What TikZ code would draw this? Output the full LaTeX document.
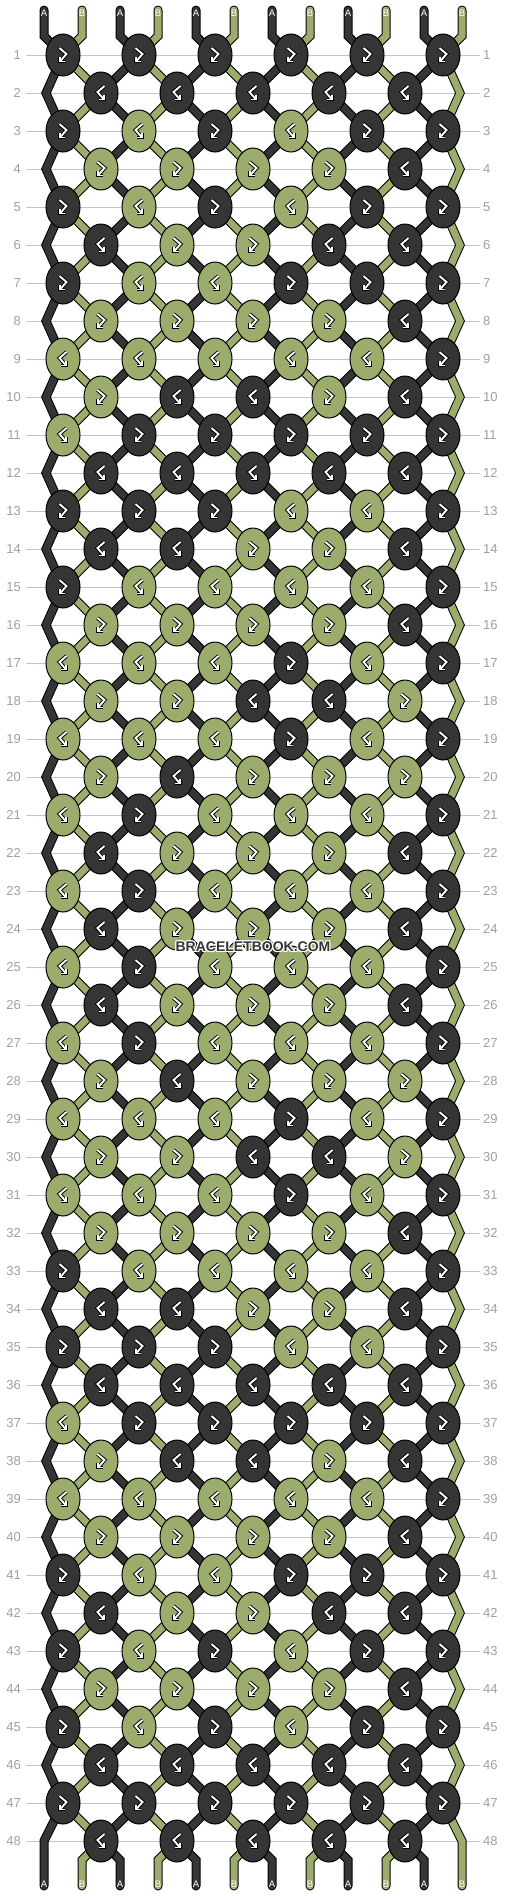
\documentclass[tikz,border=0pt]{standalone}
\usepackage{fontspec}
\setmainfont{Liberation Sans}
\usetikzlibrary{shapes.geometric}
\definecolor{dk}{HTML}{353535}
\definecolor{gr}{HTML}{9BAC6C}
\definecolor{guide}{HTML}{C4C4C4}
\definecolor{numc}{HTML}{A0A0A0}
\tikzset{
  guideline/.style={draw=guide, line width=1pt},
  rownum/.style={text=numc, font=\fontsize{13}{13}\selectfont, inner sep=0pt},
  strandout/.style={draw=black, line width=9pt, line join=miter, line cap=round},
  strandin/.style={line width=7pt, line join=miter, line cap=round},
  knot/.style={ellipse, draw=black, line width=1pt, minimum width=34pt, minimum height=42pt, inner sep=0pt},
  endlabel/.style={text=white, font=\fontsize{9.5}{9.5}\selectfont, inner sep=0pt},
  wm/.style={font=\bfseries\fontsize{14}{14}\selectfont, inner sep=0pt},
  glyphout/.style={draw=black, line width=3.8pt, line join=miter},
  glyphin/.style={draw=white, line width=1.9pt, line join=miter},
  fbglyph/.pic={
    \draw[glyphout] (-3.5,-7) -- (3.5,-1) -- (-3,6.5);
    \draw[glyphout] (-3,1.5) -- (-3,6.5) -- (2,6.5);
    \draw[glyphin] (-3.5,-7) -- (3.5,-1) -- (-3,6.5);
    \draw[glyphin] (-3,1.5) -- (-3,6.5) -- (2,6.5);
  },
  bfglyph/.pic={
    \draw[glyphout] (3.5,-7) -- (-3.5,-1) -- (3,6.5);
    \draw[glyphout] (3,1.5) -- (3,6.5) -- (-2,6.5);
    \draw[glyphin] (3.5,-7) -- (-3.5,-1) -- (3,6.5);
    \draw[glyphin] (3,1.5) -- (3,6.5) -- (-2,6.5);
  }
}
\begin{document}
\begin{tikzpicture}[x=1pt,y=-1pt]
\fill[white] (0,0) rectangle (506,1896);
\useasboundingbox (0,0) rectangle (506,1896);
% guide lines and row numbers
\foreach \r in {1,...,48}{
  \node[rownum, anchor=east] (ln-\r) at (21,17+38*\r) {\r};
  \node[rownum, anchor=west] (rn-\r) at (483,17+38*\r) {\r};
  \coordinate (gl-\r) at (26,17+38*\r);
  \coordinate (gr-\r) at (480,17+38*\r);
  \draw[guideline] (gl-\r) -- (gr-\r);
}
% strand coordinates
\foreach \p in {0,...,11}{
  \pgfmathsetmacro\sx{44+38*\p}
  \coordinate (t-\p) at (\sx,10);
  \coordinate (tb-\p) at (\sx,36);
  \coordinate (bb-\p) at (\sx,1860);
  \coordinate (b-\p) at (\sx,1886);
  \foreach \r in {1,...,48}{
    \pgfmathtruncatemacro\odd{isodd(\r)}
    \ifnum\odd=1
      \pgfmathsetmacro\xx{63+76*floor(\p/2)}
    \else
      \ifnum\p=0 \def\xx{46}\else
        \ifnum\p=11 \def\xx{460}\else
          \pgfmathsetmacro\xx{101+76*floor((\p-1)/2)}
        \fi
      \fi
    \fi
    \ifnum\r=48
      \ifnum\p=0 \def\xx{44}\fi
      \ifnum\p=11 \def\xx{462}\fi
    \fi
    \coordinate (s-\p-\r) at (\xx,17+38*\r);
  }
}
% strands
\foreach \p in {0,...,11}{
  \draw[strandout] (t-\p) -- (tb-\p) \foreach \r in {1,...,48}{ -- (s-\p-\r)} -- (bb-\p) -- (b-\p);
}
\foreach \p in {0,...,11}{
  \pgfmathtruncatemacro\pc{mod(\p,2)}
  \ifnum\pc=0 \def\sc{dk}\else\def\sc{gr}\fi
  \draw[strandin, draw=\sc] (t-\p) -- (tb-\p) \foreach \r in {1,...,48}{ -- (s-\p-\r)} -- (bb-\p) -- (b-\p);
  \ifnum\pc=0 \def\lab{A}\else\def\lab{B}\fi
  \node[endlabel] (lt-\p) at (44+38*\p,13) {\lab};
  \node[endlabel] (lb-\p) at (44+38*\p,1884) {\lab};
}
% knots
\foreach \r/\row in {
 1/{1,1,1,1,1,1}, 2/{1,1,1,1,1}, 3/{1,0,1,0,1,1}, 4/{0,0,0,0,1},
 5/{1,0,1,0,1,1}, 6/{1,0,0,1,1}, 7/{1,0,0,1,1,1}, 8/{0,0,0,0,1},
 9/{0,0,0,0,0,1}, 10/{0,1,1,0,1}, 11/{0,1,1,1,1,1}, 12/{1,1,1,1,1},
 13/{1,1,1,0,0,1}, 14/{1,1,0,0,1}, 15/{1,0,0,0,0,1}, 16/{0,0,0,0,1},
 17/{0,0,0,1,0,1}, 18/{0,0,1,1,0}, 19/{0,0,0,1,0,1}, 20/{0,1,0,0,0},
 21/{0,1,0,0,0,1}, 22/{1,0,0,0,1}, 23/{0,1,0,0,0,1}, 24/{1,0,0,0,1},
 25/{0,1,0,0,0,1}, 26/{1,0,0,0,1}, 27/{0,1,0,0,0,1}, 28/{0,1,0,0,0},
 29/{0,0,0,1,0,1}, 30/{0,0,1,1,0}, 31/{0,0,0,1,0,1}, 32/{0,0,0,0,1},
 33/{1,0,0,0,0,1}, 34/{1,1,0,0,1}, 35/{1,1,1,0,0,1}, 36/{1,1,1,1,1},
 37/{0,1,1,1,1,1}, 38/{0,1,1,0,1}, 39/{0,0,0,0,0,1}, 40/{0,0,0,0,1},
 41/{1,0,0,1,1,1}, 42/{1,0,0,1,1}, 43/{1,0,1,0,1,1}, 44/{0,0,0,0,1},
 45/{1,0,1,0,1,1}, 46/{1,1,1,1,1}, 47/{1,1,1,1,1,1}, 48/{1,1,1,1,1}}{
  \pgfmathtruncatemacro\odd{isodd(\r)}
  \foreach \c [count=\i from 0] in \row {
    \ifnum\odd=1 \pgfmathsetmacro\kx{63+76*\i}\else\pgfmathsetmacro\kx{101+76*\i}\fi
    \ifnum\c=1 \def\kc{dk}\else\def\kc{gr}\fi
    \node[knot, fill=\kc] (n-\r-\i) at (\kx,17+38*\r) {};
    \ifnum\c=\odd \pic at (n-\r-\i) {fbglyph};\else \pic at (n-\r-\i) {bfglyph};\fi
  }
}
% watermark
\foreach \dx/\dy [count=\k] in {-1/-1,0/-1,1/-1,-1/0,1/0,-1/1,0/1,1/1}{
  \node[wm, text=white] (wmh-\k) at (253+\dx,947+\dy) {BRACELETBOOK.COM};
}
\node[wm, text=dk] (wm) at (253,947) {BRACELETBOOK.COM};
\end{tikzpicture}
\end{document}
